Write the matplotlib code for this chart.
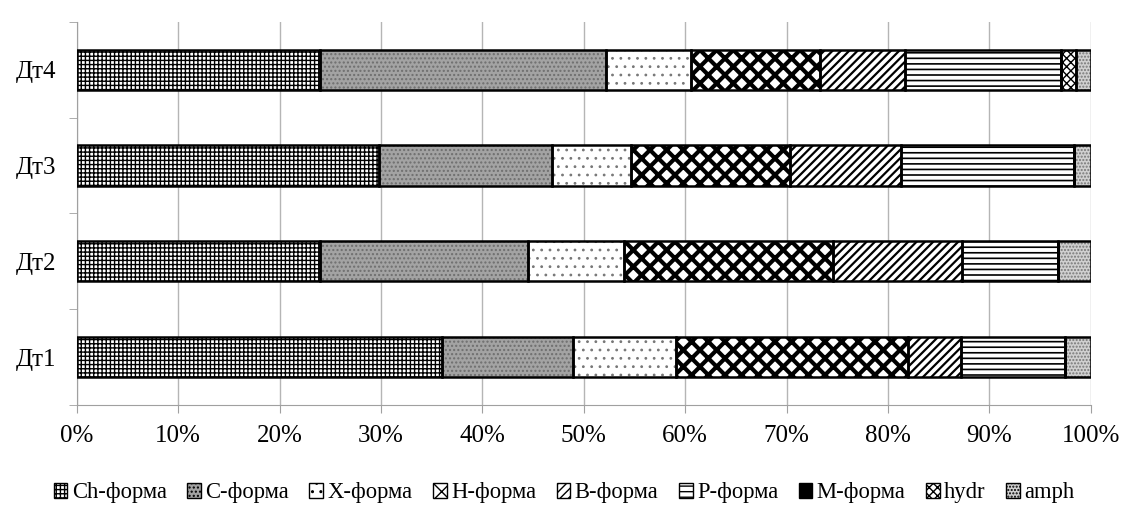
import matplotlib.pyplot as plt
from matplotlib.patches import Patch
import numpy as np

plt.rcParams['font.family'] = ['Liberation Serif', 'DejaVu Serif']
plt.rcParams['hatch.linewidth'] = 1.0

sites = ['Дт1', 'Дт2', 'Дт3', 'Дт4']
labels = ['Ch-форма', 'C-форма', 'X-форма', 'H-форма', 'B-форма', 'P-форма', 'M-форма', 'hydr', 'amph']

ch = [36.0, 24.0, 29.8, 24.0]
c_form = [12.9, 20.5, 17.1, 28.2]
x_form = [10.2, 9.5, 7.8, 8.4]
h_form = [22.9, 20.6, 15.6, 12.7]
b_form = [5.2, 12.7, 11.0, 8.4]
p_form = [10.3, 9.5, 17.0, 15.4]
m_form = [0, 0, 0, 0]
hydr = [0, 0, 0, 1.4]
amph = [2.5, 3.2, 1.7, 1.5]

series = [ch, c_form, x_form, h_form, b_form, p_form, m_form, hydr, amph]
faces = ['white', '#a3a3a3', 'white', 'white', 'white', 'white', 'black', 'white', '#d0d0d0']
hatches = ['++++', '....', '..', 'xx', '////', '---', None, 'xxxx', '.....']
hcolors = ['black', '#6e6e6e', '#777777', 'black', 'black', 'black', 'black', 'black', '#777777']
hwidths = [1.0, 1.0, 0.8, 3.0, 1.6, 1.2, 1.0, 1.0, 1.0]

fs = 18

fig = plt.figure(figsize=(11.28, 5.2), dpi=100)
ax = fig.add_axes([0.068, 0.221, 0.899, 0.737])

y = np.arange(len(sites))
left = np.zeros(len(sites))
for vals, lab, fc, h, hc, hw in zip(series, labels, faces, hatches, hcolors, hwidths):
    vals = np.array(vals) / 100.0
    bars = ax.barh(y, vals, left=left, height=0.42, color=fc, hatch=h,
                   edgecolor=hc, linewidth=0, zorder=2)
    for b in bars:
        if hasattr(b, 'set_hatch_linewidth'):
            b.set_hatch_linewidth(hw)
    # black outline drawn separately so the hatch colour can differ
    ax.barh(y, vals, left=left, height=0.42, fill=False, edgecolor='black',
            linewidth=1.8, zorder=3)
    left += vals

ax.set_xlim(0, 1)
ax.set_ylim(-0.5, 3.5)
ax.set_xticks(np.arange(0, 1.01, 0.1))
ax.set_xticklabels(['%d%%' % v for v in range(0, 101, 10)], fontsize=fs)
ax.set_yticks(y)
ax.set_yticklabels(sites, fontsize=fs)
ax.set_yticks(np.arange(-0.5, 3.6, 1), minor=True)
ax.tick_params(axis='y', which='major', length=0, pad=15)
ax.tick_params(axis='y', which='minor', length=6, color='#a0a0a0')
ax.tick_params(axis='x', length=6, color='#a0a0a0', pad=8)
ax.grid(axis='x', color='#b5b5b5', linewidth=1, zorder=0)
for s in ['top', 'right']:
    ax.spines[s].set_visible(False)
ax.spines['left'].set_color('#a0a0a0')
ax.spines['bottom'].set_color('#a0a0a0')

handles = []
for lab, fc, h in zip(labels, faces, hatches):
    handles.append(Patch(facecolor=fc, hatch=h, edgecolor='black', linewidth=1, label=lab))
fig.legend(handles=handles, loc='center', bbox_to_anchor=(0.5, 0.052), ncol=9,
           frameon=False, prop={'family': 'Liberation Serif', 'size': 16.3},
           handlelength=0.6, handleheight=0.6, handletextpad=0.2, columnspacing=0.9,
           borderpad=0.1)

fig.savefig('out.png', dpi=100)
